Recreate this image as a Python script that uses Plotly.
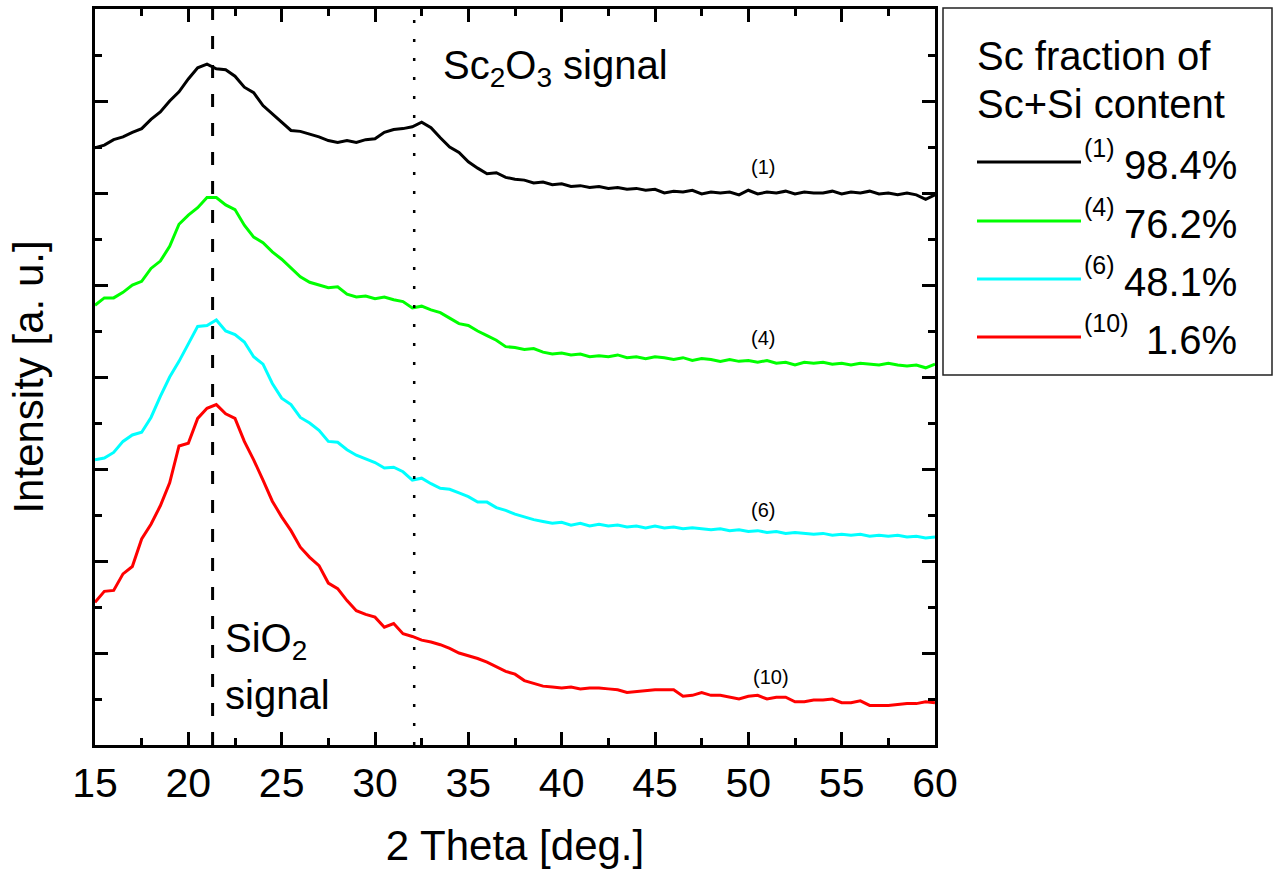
import numpy as np
import plotly.graph_objects as go

# ---------------------------------------------------------------- data
# 2-theta sampling grid (deg.)
two_theta = np.arange(15.0, 60.01, 0.5)

# XRD intensities, vertically offset per sample (a. u.)
intensity_1 = [
    6.49, 6.52, 6.58, 6.61, 6.66, 6.70, 6.80, 6.88, 7.00, 7.10,
    7.24, 7.36, 7.40, 7.35, 7.34, 7.27, 7.15, 7.09, 6.95, 6.86,
    6.77, 6.68, 6.67, 6.64, 6.61, 6.57, 6.55, 6.57, 6.55, 6.58,
    6.59, 6.66, 6.69, 6.70, 6.72, 6.77, 6.71, 6.60, 6.50, 6.44,
    6.34, 6.27, 6.21, 6.22, 6.17, 6.15, 6.14, 6.11, 6.12, 6.09,
    6.10, 6.07, 6.08, 6.06, 6.07, 6.05, 6.06, 6.04, 6.05, 6.03,
    6.04, 6.00, 6.02, 6.01, 6.03, 5.99, 6.01, 6.00, 6.01, 5.98,
    6.03, 5.99, 6.01, 6.00, 6.02, 5.99, 6.01, 6.00, 6.00, 6.02,
    5.99, 6.01, 6.00, 6.02, 5.99, 6.00, 5.98, 6.00, 5.98, 5.93,
    5.98,
]
intensity_4 = [
    4.78, 4.86, 4.86, 4.92, 5.00, 5.04, 5.18, 5.26, 5.42, 5.66,
    5.76, 5.84, 5.95, 5.95, 5.87, 5.82, 5.65, 5.52, 5.46, 5.36,
    5.28, 5.19, 5.09, 5.03, 5.00, 4.97, 4.98, 4.90, 4.87, 4.88,
    4.85, 4.87, 4.84, 4.82, 4.75, 4.77, 4.73, 4.70, 4.64, 4.58,
    4.56, 4.50, 4.45, 4.40, 4.33, 4.32, 4.30, 4.31, 4.27, 4.25,
    4.26, 4.24, 4.25, 4.22, 4.23, 4.22, 4.24, 4.21, 4.22, 4.20,
    4.22, 4.21, 4.19, 4.21, 4.18, 4.20, 4.19, 4.17, 4.19, 4.17,
    4.18, 4.16, 4.18, 4.15, 4.16, 4.13, 4.16, 4.15, 4.16, 4.14,
    4.15, 4.13, 4.15, 4.14, 4.13, 4.15, 4.13, 4.12, 4.13, 4.10,
    4.14,
]
intensity_6 = [
    3.10, 3.12, 3.18, 3.30, 3.37, 3.40, 3.56, 3.79, 4.00, 4.17,
    4.36, 4.55, 4.56, 4.62, 4.50, 4.46, 4.38, 4.22, 4.14, 3.93,
    3.77, 3.70, 3.56, 3.50, 3.42, 3.30, 3.29, 3.21, 3.15, 3.11,
    3.07, 3.01, 3.02, 2.97, 2.88, 2.90, 2.84, 2.79, 2.78, 2.74,
    2.70, 2.64, 2.64, 2.58, 2.55, 2.51, 2.48, 2.45, 2.43, 2.41,
    2.42, 2.39, 2.41, 2.38, 2.40, 2.38, 2.39, 2.37, 2.38, 2.36,
    2.38, 2.36, 2.37, 2.35, 2.36, 2.35, 2.34, 2.35, 2.33, 2.34,
    2.32, 2.33, 2.31, 2.32, 2.30, 2.31, 2.30, 2.29, 2.30, 2.28,
    2.29, 2.28, 2.29, 2.27, 2.28, 2.27, 2.28, 2.26, 2.27, 2.25,
    2.26,
]
intensity_10 = [
    1.55, 1.67, 1.68, 1.86, 1.94, 2.24, 2.40, 2.60, 2.85, 3.25,
    3.28, 3.55, 3.66, 3.70, 3.60, 3.55, 3.30, 3.10, 2.88, 2.65,
    2.48, 2.33, 2.15, 2.04, 1.95, 1.76, 1.70, 1.57, 1.46, 1.42,
    1.39, 1.28, 1.32, 1.21, 1.18, 1.14, 1.12, 1.09, 1.05, 1.00,
    0.97, 0.94, 0.90, 0.85, 0.80, 0.77, 0.70, 0.67, 0.64, 0.63,
    0.62, 0.63, 0.61, 0.62, 0.62, 0.61, 0.60, 0.57, 0.58, 0.59,
    0.60, 0.60, 0.60, 0.53, 0.54, 0.57, 0.54, 0.54, 0.52, 0.50,
    0.53, 0.54, 0.50, 0.52, 0.52, 0.47, 0.47, 0.49, 0.49, 0.50,
    0.46, 0.46, 0.48, 0.43, 0.43, 0.43, 0.44, 0.45, 0.45, 0.47,
    0.46,
]

sample_ids = ["(1)", "(4)", "(6)", "(10)"]
sc_fractions = ["98.4%", "76.2%", "48.1%", "1.6%"]
x_tick_values = [15, 20, 25, 30, 35, 40, 45, 50, 55, 60]

# reference peak positions (deg.)
sio2_peak = 21.3
sc2o3_peak = 32.1

# ---------------------------------------------------------------- styling
FONT = "Arial, 'Liberation Sans', sans-serif"
colors = ["#000000", "#00ff00", "#00ffff", "#ff0000"]
series = [intensity_1, intensity_4, intensity_6, intensity_10]

W, H = 1275, 874
PX_L, PX_R, PX_T, PX_B = 95, 935, 9, 745
TEXT_SIZE = 40


def px_x(px):
    return (px - PX_L) / (PX_R - PX_L)


def px_y(py):
    return (PX_B - py) / (PX_B - PX_T)


def font(size=TEXT_SIZE):
    return dict(size=size, color="black", family=FONT)


fig = go.Figure()

for vals, col, sid in zip(series, colors, sample_ids):
    fig.add_trace(go.Scatter(
        x=two_theta, y=vals, mode="lines", name=sid,
        line=dict(color=col, width=3), showlegend=False,
    ))

# reference lines for the oxide peaks
fig.add_shape(type="line", xref="x", yref="y", x0=sio2_peak, x1=sio2_peak,
              y0=0, y1=8, line=dict(color="black", width=3, dash="13px,16px"))
fig.add_shape(type="line", xref="x", yref="y", x0=sc2o3_peak, x1=sc2o3_peak,
              y0=0, y1=8, line=dict(color="black", width=2.5, dash="3px,16px"))

annotations = []

# sample labels next to each curve
label_pos = [(50.8, 6.28), (50.8, 4.42), (50.8, 2.55), (51.2, 0.74)]
for sid, (lx, ly) in zip(sample_ids, label_pos):
    annotations.append(dict(x=lx, y=ly, xref="x", yref="y", text=sid,
                            showarrow=False, font=font(20)))

# peak captions
annotations.append(dict(x=px_x(441), y=px_y(68), xref="paper", yref="paper",
                        text="Sc<sub>2</sub>O<sub>3</sub> signal", showarrow=False,
                        xanchor="left", yanchor="middle", font=font()))
annotations.append(dict(x=px_x(223), y=px_y(641), xref="paper", yref="paper",
                        text="SiO<sub>2</sub>", showarrow=False,
                        xanchor="left", yanchor="middle", font=font()))
annotations.append(dict(x=px_x(223), y=px_y(695), xref="paper", yref="paper",
                        text="signal", showarrow=False,
                        xanchor="left", yanchor="middle", font=font()))

# hand-drawn legend box
shapes = [dict(type="rect", xref="paper", yref="paper",
               x0=px_x(943), x1=px_x(1272), y0=px_y(375), y1=px_y(8),
               line=dict(color="#222222", width=1.5), fillcolor="white", layer="below")]
annotations.append(dict(x=px_x(975), y=px_y(56), xref="paper", yref="paper",
                        text="Sc fraction of", showarrow=False,
                        xanchor="left", yanchor="middle", font=font()))
annotations.append(dict(x=px_x(975), y=px_y(104), xref="paper", yref="paper",
                        text="Sc+Si content", showarrow=False,
                        xanchor="left", yanchor="middle", font=font()))
legend_rows = [162, 221, 279, 337]
for sid, frac, col, row in zip(sample_ids, sc_fractions, colors, legend_rows):
    shapes.append(dict(type="line", xref="paper", yref="paper",
                       x0=px_x(977), x1=px_x(1081), y0=px_y(row), y1=px_y(row),
                       line=dict(color=col, width=3)))
    annotations.append(dict(x=px_x(1082), y=px_y(row - 14), xref="paper", yref="paper",
                            text=sid, showarrow=False, xanchor="left", yanchor="middle",
                            font=font(25)))
    annotations.append(dict(x=px_x(1239), y=px_y(row + 3), xref="paper", yref="paper",
                            text=frac, showarrow=False, xanchor="right", yanchor="middle",
                            font=font()))

for s in shapes:
    fig.add_shape(**s)

axis_common = dict(
    showline=True, linecolor="black", linewidth=3, mirror="ticks",
    ticks="inside", ticklen=13, tickwidth=3, tickcolor="black",
    showgrid=False, zeroline=False,
)

fig.update_layout(
    width=W, height=H,
    margin=dict(l=PX_L, r=W - PX_R, t=PX_T, b=H - PX_B, autoexpand=False),
    paper_bgcolor="white", plot_bgcolor="white",
    font=dict(family=FONT, color="black"),
    annotations=annotations,
    xaxis=dict(
        range=[15, 60], tickvals=x_tick_values,
        tickfont=font(41),
        minor=dict(dtick=2.5, tick0=15, ticks="inside", ticklen=7, tickwidth=3, tickcolor="black"),
        title=dict(text="2 Theta [deg.]", font=font(42), standoff=26),
        **axis_common,
    ),
    yaxis=dict(
        range=[0, 8], dtick=1, tick0=0, showticklabels=False,
        minor=dict(dtick=0.5, tick0=0, ticks="inside", ticklen=7, tickwidth=3, tickcolor="black"),
        title=dict(text="Intensity [a. u.]", font=font(42), standoff=36),
        **axis_common,
    ),
)

fig.write_html("out.html")
